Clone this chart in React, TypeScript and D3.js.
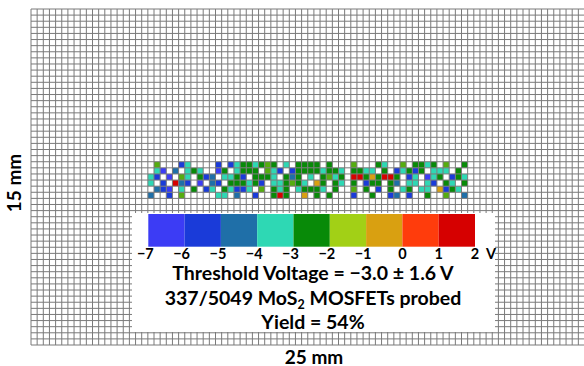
import * as d3 from "d3";

// wafer grid: 25 mm x 15 mm, one cell per device site
const GRID_COLS = 90;
const GRID_ROWS = 55;

// colour bar bins (threshold voltage, V)
const BIN_EDGES = [-7, -6, -5, -4, -3, -2, -1, 0, 1, 2];
const BIN_COLORS = [
  "#3c3cf5",
  "#1a3bd9",
  "#1f6fa8",
  "#2ed8b4",
  "#088a08",
  "#a2d016",
  "#d9a011",
  "#ff3c0c",
  "#d60000",
];
const TICK_LABELS = ["\u22127", "\u22126", "\u22125", "\u22124", "\u22123", "\u22122", "\u22121", "0", "1", "2"];

// measured devices, one letter per site, "." = not working / not probed
const CODE_VOLTAGE: Record<string, number> = {
  a: -6.5,
  b: -5.5,
  c: -4.5,
  d: -3.5,
  e: -2.5,
  o: -2.0,
  f: -1.5,
  g: -0.5,
  h: 0.5,
  i: 1.5,
};
const MAP_FIRST_COL = 19;
const MAP_FIRST_ROW = 25;
const MAP_ROWS = [
  ".o...bd....b.bdeedeoe.d.eeee.e...o...ed..o.eede.o..e",
  ".da.c.ded..ae.deee.odb.beeeedeed.eedd.e.bdebe.ddd.e.",
  "db.a.od.ebc.ddeb.eeed.ece.d.eode.iiegeiie.bd.ade.bed",
  "d.b.icb.a.cb.eeedeb.ddeoed.ge.ed.e.bee.ec.dd.db.ed.e",
  ".cba.d.e.bd.edbbd.o.ede.deeed.e..o.e.b.e.de.dd.gbed.",
  "c..b.o.....dd.c..b..eie..g.e.e...b..e..bc.b..e..o..c",
];

const W = 584;
const H = 366;
const FONT = "Lato, 'Open Sans', sans-serif";

export default function App() {
  const x = d3.scaleLinear().domain([0, GRID_COLS]).range([31, 584.5]);
  const y = d3.scaleLinear().domain([0, GRID_ROWS]).range([9, 345]);

  const centers = BIN_EDGES.slice(0, -1).map((v) => v + 0.5);
  const color = d3.scaleLinear<string>().domain(centers).range(BIN_COLORS).clamp(true);

  const cells: { c: number; r: number; v: number }[] = [];
  MAP_ROWS.forEach((row, ri) => {
    row.split("").forEach((ch, ci) => {
      if (ch in CODE_VOLTAGE) cells.push({ c: MAP_FIRST_COL + ci, r: MAP_FIRST_ROW + ri, v: CODE_VOLTAGE[ch] });
    });
  });

  const cb = d3.scaleLinear().domain([-7, 2]).range([148.3, 475]);
  const cbTop = 214;
  const cbBottom = 246.7;
  const cx = 313;

  return (
    <div style={{ position: "absolute", left: 0, top: 0 }}>
      <svg width={W} height={H} style={{ display: "block", background: "#fff" }}>
        {/* device map */}
        {cells.map((d, i) => (
          <rect
            key={i}
            x={x(d.c)}
            y={y(d.r)}
            width={x(d.c + 1) - x(d.c)}
            height={y(d.r + 1) - y(d.r)}
            fill={color(d.v)}
          />
        ))}

        {/* grid */}
        <g stroke="#7a7a7a" strokeWidth={1}>
          {d3.range(GRID_COLS + 1).map((k) => (
            <line key={"v" + k} x1={x(k)} x2={x(k)} y1={y(0)} y2={y(GRID_ROWS)} />
          ))}
          {d3.range(GRID_ROWS + 1).map((k) => (
            <line key={"h" + k} x1={x(0)} x2={x(GRID_COLS)} y1={y(k)} y2={y(k)} />
          ))}
        </g>

        {/* legend panel */}
        <rect x={132} y={213} width={363} height={119} fill="#fff" />
        {BIN_COLORS.map((c, i) => (
          <rect
            key={c}
            x={cb(BIN_EDGES[i])}
            y={cbTop}
            width={cb(BIN_EDGES[i + 1]) - cb(BIN_EDGES[i])}
            height={cbBottom - cbTop}
            fill={c}
          />
        ))}
        <g fontFamily={FONT} fontWeight={700} fontSize={14.5} fill="#000" textAnchor="middle">
          {BIN_EDGES.map((v, i) => (
            <text key={v} x={cb(v) - (v < 0 ? 3 : 0)} y={259}>
              {TICK_LABELS[i]}
            </text>
          ))}
          <text x={491} y={259}>
            V
          </text>
        </g>

        <g fontFamily={FONT} fontWeight={700} fontSize={19.5} fill="#000" textAnchor="middle">
          <text x={cx} y={280}>
            Threshold Voltage = {"\u2212"}3.0 {"\u00b1"} 1.6 V
          </text>
          <text x={cx} y={304.5}>
            337/5049 MoS
            <tspan fontSize={12.5} dy={4}>
              2
            </tspan>
            <tspan dy={-4}> MOSFETs probed</tspan>
          </text>
          <text x={cx} y={329}>
            Yield = 54%
          </text>
        </g>

        {/* axis labels */}
        <g fontFamily={FONT} fontWeight={700} fontSize={19} fill="#000" textAnchor="middle">
          <text x={314} y={363.5}>
            25 mm
          </text>
          <text transform="translate(21,183) rotate(-90)">15 mm</text>
        </g>
      </svg>
    </div>
  );
}
